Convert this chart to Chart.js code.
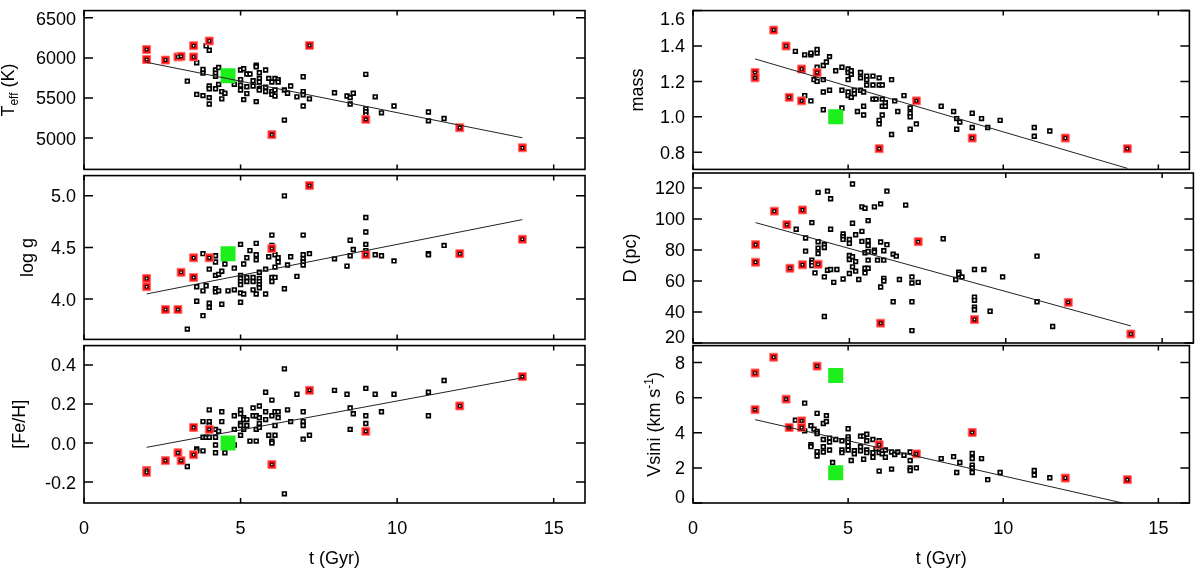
<!DOCTYPE html>
<html>
<head>
<meta charset="utf-8">
<script src="https://cdn.jsdelivr.net/npm/chart.js@4.4.1/dist/chart.umd.min.js"></script>
<style>
    body { margin: 0; background: #fff; width: 1200px; height: 570px; position: relative; overflow: hidden; }
    canvas { position: absolute; }
</style>
</head>
<body>
<canvas id="pTeff"></canvas>
<canvas id="pMass"></canvas>
<canvas id="pLogg"></canvas>
<canvas id="pDist"></canvas>
<canvas id="pFeh"></canvas>
<canvas id="pVsini"></canvas>
<script>
// ======================== TICKS ========================
const ageTicks = [0, 5, 10, 15];
const teffTicks = [5000, 5500, 6000, 6500];
const loggTicks = [4.0, 4.5, 5.0];
const fehTicks = [-0.2, 0.0, 0.2, 0.4];
const massTicks = [0.8, 1.0, 1.2, 1.4, 1.6];
const distTicks = [20, 40, 60, 80, 100, 120];
const vsiniTicks = [0, 2, 4, 6, 8];

// ======================== DADOS [idade (Gyr), valor] ========================
const teffBlack = [[3.9,6150],[4.0,6095],[3.6,5940],[3.3,5710],[3.6,5545],[3.8,5530],[3.8,5855],[3.8,5810],[4.0,5505],[4.0,5425],[4.0,5650],[4.0,5615],[4.2,5850],[4.2,5810],[4.2,5770],[4.2,5615],[4.3,5880],[4.3,5670],[4.4,5580],[4.4,5490],[4.5,5560],[4.8,5670],[5.0,5850],[5.0,5730],[5.0,5660],[5.0,5600],[5.1,5865],[5.1,5480],[5.2,5800],[5.3,5800],[5.2,5640],[5.2,5555],[5.4,5715],[5.4,5650],[5.5,5910],[5.5,5890],[5.5,5455],[5.6,5815],[5.6,5745],[5.6,5700],[5.6,5615],[5.6,5600],[5.8,5850],[5.8,5635],[5.8,5580],[5.9,5745],[6.0,5700],[6.0,5580],[6.0,5545],[6.1,5745],[6.1,5600],[6.1,5525],[6.2,5730],[6.2,5700],[6.4,5600],[6.5,5560],[6.4,5225],[6.6,5650],[6.8,5515],[7.0,5765],[7.0,5580],[7.0,5540],[7.0,5400],[7.2,5490],[8.0,5565],[8.4,5525],[8.5,5505],[8.5,5425],[8.6,5560],[9.0,5795],[9.0,5365],[9.0,5330],[9.0,5290],[9.3,5515],[9.5,5315],[9.9,5400],[11.0,5325],[11.0,5215],[11.5,5245]];
const teffRed = [[2.0,6105],[2.0,5980],[2.6,5973],[3.0,6012],[3.1,6020],[3.5,6152],[3.5,6012],[4.0,6211],[6.0,5043],[7.2,6156],[9.0,5234],[12.0,5129],[14.0,4879]];
const teffSun = [[4.6,5777]];
const teffFit = [[2.0,5945],[14.0,5004]];

const loggBlack = [[3.3,3.71],[3.6,3.98],[3.8,3.84],[3.6,4.12],[3.8,4.08],[3.9,4.13],[3.8,4.44],[4.0,4.29],[4.0,3.96],[4.0,3.92],[4.2,4.42],[4.2,4.36],[4.2,4.23],[4.3,4.24],[4.2,4.10],[4.2,4.07],[4.3,4.08],[4.4,4.27],[4.4,3.95],[4.5,4.34],[4.6,4.08],[4.8,4.30],[4.8,4.09],[5.0,4.53],[5.0,4.23],[5.0,4.20],[5.0,4.17],[5.0,4.14],[5.0,4.06],[5.0,3.97],[5.1,4.34],[5.1,4.05],[5.2,4.21],[5.2,4.17],[5.2,4.40],[5.3,4.47],[5.4,4.21],[5.4,4.17],[5.4,4.09],[5.5,4.54],[5.5,4.43],[5.5,4.38],[5.5,4.05],[5.6,4.26],[5.6,4.20],[5.6,4.17],[5.6,4.14],[5.6,4.11],[5.8,4.29],[5.8,4.05],[5.9,4.41],[6.0,4.62],[6.0,4.52],[6.0,4.21],[6.0,4.17],[6.1,4.43],[6.1,4.31],[6.1,4.21],[6.2,4.40],[6.2,4.36],[6.4,5.00],[6.4,4.10],[6.5,4.33],[6.6,4.41],[6.8,4.22],[7.0,4.62],[7.0,4.43],[7.0,4.39],[7.0,4.36],[7.0,4.33],[7.2,4.44],[8.0,4.39],[8.4,4.32],[8.5,4.57],[8.5,4.42],[8.6,4.48],[9.0,4.79],[9.0,4.65],[9.0,4.53],[9.0,4.47],[9.3,4.43],[9.5,4.42],[9.9,4.37],[11.0,4.44],[11.0,4.43],[11.5,4.52]];
const loggRed = [[2.0,4.20],[2.0,4.12],[2.6,3.90],[3.0,3.90],[3.1,4.26],[3.5,4.40],[3.5,4.21],[4.0,4.40],[6.0,4.49],[7.2,5.10],[9.0,4.43],[12.0,4.44],[14.0,4.58]];
const loggSun = [[4.6,4.44]];
const loggFit = [[2.0,4.05],[14.0,4.77]];

const fehBlack = [[3.3,-0.12],[3.6,-0.03],[3.6,-0.04],[3.8,0.11],[3.8,0.03],[3.8,-0.04],[3.9,0.03],[4.0,0.17],[4.0,0.11],[4.0,0.09],[4.0,0.03],[4.2,0.03],[4.2,0.07],[4.2,-0.01],[4.2,-0.05],[4.3,0.06],[4.4,0.16],[4.4,0.11],[4.5,-0.05],[4.8,0.14],[4.8,0.07],[4.8,-0.01],[5.0,0.17],[5.0,0.15],[5.0,0.10],[5.0,0.09],[5.0,0.04],[5.1,0.13],[5.1,0.12],[5.1,0.07],[5.2,0.12],[5.2,0.09],[5.3,0.01],[5.4,0.18],[5.4,0.14],[5.5,0.14],[5.5,0.07],[5.5,0.01],[5.6,0.19],[5.6,0.13],[5.6,0.10],[5.6,0.08],[5.8,0.26],[5.8,0.16],[5.8,0.12],[5.9,0.04],[6.0,0.22],[6.0,0.14],[6.0,0.01],[6.0,0.00],[6.1,0.16],[6.1,0.09],[6.1,0.04],[6.2,0.16],[6.2,0.13],[6.4,0.38],[6.4,-0.26],[6.5,0.17],[6.6,0.11],[6.8,0.25],[7.0,0.16],[7.0,0.11],[7.0,0.09],[7.0,0.02],[7.2,0.04],[8.0,0.27],[8.4,0.25],[8.5,0.18],[8.5,0.07],[8.6,0.15],[9.0,0.28],[9.0,0.14],[9.0,0.10],[9.3,0.25],[9.5,0.16],[9.9,0.25],[11.0,0.26],[11.0,0.14],[11.5,0.32]];
const fehRed = [[2.0,-0.14],[2.0,-0.15],[2.6,-0.09],[3.0,-0.05],[3.1,-0.09],[3.5,0.08],[3.5,-0.06],[4.0,0.07],[6.0,-0.11],[7.2,0.27],[9.0,0.06],[12.0,0.19],[14.0,0.34]];
const fehSun = [[4.6,0.0]];
const fehFit = [[2.0,-0.022],[14.0,0.334]];

const massBlack = [[3.3,1.37],[3.6,1.35],[3.8,1.35],[3.8,1.36],[4.0,1.36],[4.0,1.38],[3.6,1.12],[3.8,1.09],[4.0,1.28],[3.9,1.21],[4.0,1.20],[4.2,1.04],[4.2,1.21],[4.2,1.14],[4.2,1.29],[4.3,1.31],[4.4,1.34],[4.4,1.15],[4.6,1.26],[4.8,1.28],[4.8,1.15],[4.8,1.05],[5.0,1.27],[5.0,1.25],[5.0,1.21],[5.0,1.14],[5.1,1.24],[5.1,1.26],[5.0,1.12],[5.1,1.11],[5.2,1.15],[5.2,1.13],[5.3,1.03],[5.4,1.25],[5.4,1.22],[5.4,1.15],[5.5,1.14],[5.5,1.06],[5.5,1.01],[5.6,1.23],[5.6,1.21],[5.6,1.18],[5.8,1.23],[5.8,1.18],[5.8,1.10],[5.9,1.10],[6.0,1.22],[6.0,1.18],[6.0,0.98],[6.0,0.96],[6.1,1.18],[6.1,1.10],[6.1,1.06],[6.2,1.08],[6.2,1.06],[6.1,1.01],[6.5,1.09],[6.4,1.21],[6.4,0.90],[6.6,1.03],[6.8,1.12],[7.0,1.05],[7.0,1.02],[7.0,1.00],[7.0,0.93],[7.2,0.96],[8.0,1.06],[8.4,1.03],[8.5,0.99],[8.6,0.97],[8.5,0.93],[9.0,1.02],[9.0,0.94],[9.3,0.99],[9.5,0.94],[9.9,0.98],[11.0,0.94],[11.0,0.89],[11.5,0.92]];
const massRed = [[2.0,1.25],[2.0,1.22],[2.6,1.49],[3.0,1.40],[3.1,1.11],[3.5,1.27],[3.5,1.09],[4.0,1.25],[6.0,0.82],[7.2,1.09],[9.0,0.88],[12.0,0.88],[14.0,0.82]];
const massSun = [[4.6,1.0]];
const massFit = [[2.0,1.327],[14.0,0.709]];

const distBlack = [[3.3,93.3],[3.6,87.7],[3.6,79.2],[3.8,97.6],[3.8,73.4],[3.8,71.7],[3.8,69.9],[3.9,65.2],[4.0,117.1],[4.0,85.3],[4.0,81.2],[4.0,77.7],[4.2,83.4],[4.2,81.6],[4.2,62.6],[4.2,37.1],[4.3,117.9],[4.3,66.9],[4.4,67.4],[4.4,113.0],[4.4,93.3],[4.5,59.1],[4.6,67.4],[4.8,90.3],[4.8,88.5],[4.8,86.8],[4.8,61.3],[5.0,86.8],[5.0,84.2],[5.0,76.4],[5.0,73.8],[5.0,64.8],[5.1,122.5],[5.1,97.2],[5.1,75.6],[5.1,69.1],[5.2,89.8],[5.2,72.5],[5.2,66.3],[5.3,60.9],[5.4,107.8],[5.5,106.9],[5.4,92.0],[5.4,85.5],[5.5,78.2],[5.5,68.2],[5.5,65.2],[5.6,98.9],[5.6,85.9],[5.6,82.9],[5.6,79.0],[5.6,73.4],[5.6,68.2],[5.8,107.8],[5.8,79.8],[5.8,78.7],[5.9,73.4],[6.0,109.7],[6.0,85.1],[6.0,56.1],[6.1,79.5],[6.1,73.4],[6.1,61.7],[6.1,60.0],[6.2,117.9],[6.2,83.4],[6.4,77.3],[6.5,76.0],[6.4,46.6],[6.6,60.9],[6.8,108.9],[7.0,62.6],[7.0,58.7],[7.0,46.6],[7.0,28.0],[7.2,59.1],[8.0,87.2],[8.4,60.9],[8.5,65.6],[8.5,64.3],[8.6,62.6],[9.0,67.4],[9.0,49.6],[9.0,47.5],[9.0,43.1],[9.0,41.4],[9.3,67.4],[9.5,40.5],[9.9,62.6],[11.0,76.0],[11.0,46.6],[11.5,30.6]];
const distRed = [[2.0,83.4],[2.0,72.1],[2.6,105.0],[3.0,96.3],[3.1,68.2],[3.5,105.8],[3.5,70.4],[4.0,70.8],[6.0,32.8],[7.2,85.3],[9.0,35.1],[12.0,46.2],[14.0,25.8]];
const distSun = [];
const distFit = [[2.0,97.6],[14.0,31.0]];

const vsiniBlack = [[3.3,4.72],[3.6,5.69],[3.6,4.11],[3.8,4.41],[3.8,3.32],[3.8,3.21],[3.9,4.21],[4.0,5.11],[4.0,4.08],[4.0,3.96],[4.0,2.93],[4.0,2.68],[4.2,4.53],[4.3,4.98],[4.3,4.64],[4.2,3.62],[4.2,3.21],[4.2,2.91],[4.4,3.70],[4.4,3.47],[4.4,3.02],[4.5,2.31],[4.6,3.62],[4.8,3.55],[4.8,3.02],[4.8,2.87],[5.0,4.23],[5.0,3.77],[5.0,3.62],[5.0,3.47],[5.0,3.25],[5.0,3.02],[5.1,2.42],[5.2,2.98],[5.2,2.80],[5.4,3.81],[5.4,3.21],[5.4,2.98],[5.5,3.81],[5.5,2.49],[5.6,3.92],[5.6,3.55],[5.6,3.02],[5.6,2.87],[5.8,3.62],[5.8,2.87],[5.8,2.61],[5.9,3.10],[6.0,3.55],[6.0,2.87],[6.0,1.82],[6.1,2.98],[6.1,2.80],[6.2,3.02],[6.2,2.61],[6.4,2.91],[6.5,2.76],[6.4,1.93],[6.6,2.91],[6.8,2.72],[7.0,2.91],[7.0,2.42],[7.0,2.00],[7.0,1.85],[7.2,2.00],[8.0,2.53],[8.4,2.64],[8.5,1.74],[8.6,2.31],[9.0,2.83],[9.0,2.53],[9.0,2.16],[9.0,2.00],[9.0,1.74],[9.3,2.53],[9.5,1.33],[9.9,1.74],[11.0,1.85],[11.0,1.59],[11.5,1.44]];
const vsiniRed = [[2.0,7.41],[2.0,5.32],[2.6,8.31],[3.0,5.92],[3.1,4.30],[3.5,4.68],[3.5,4.30],[4.0,7.80],[6.0,3.32],[7.2,2.80],[9.0,4.02],[12.0,1.42],[14.0,1.33]];
const vsiniSun = [[4.6,7.26],[4.6,1.72]];
const vsiniFit = [[2.0,4.75],[13.85,0.0]];

// ======================== LAYOUT ========================
const FONT = '"Liberation Sans", Arial, Helvetica, sans-serif';
const cols = [
    { left: 0, padRight: 15, yw: 84 },
    { left: 600, padRight: 4, yw: 93 },
];
const rows = [
    { top: 0, h: 180, padTop: 4, padBottom: 7, xh: 0 },
    { top: 165, h: 185, padTop: 8, padBottom: 7, xh: 0 },
    { top: 335, h: 235, padTop: 8, padBottom: 0, xh: 67 },
];

const panels = [
    { id: 'pTeff', col: 0, row: 0, min: 4610, max: 6590, ticks: teffTicks, dec: 0, titleX: 14,
      title: [['T'], ['eff', 'sub'], [' (K)']], black: teffBlack, red: teffRed, sun: teffSun, fit: teffFit },
    { id: 'pLogg', col: 0, row: 1, min: 3.61, max: 5.196, ticks: loggTicks, dec: 1, titleX: 32.5,
      title: [['log g']], black: loggBlack, red: loggRed, sun: loggSun, fit: loggFit },
    { id: 'pFeh', col: 0, row: 2, min: -0.307, max: 0.499, ticks: fehTicks, dec: 1, titleX: 24.8,
      title: [['[Fe/H]']], black: fehBlack, red: fehRed, sun: fehSun, fit: fehFit },
    { id: 'pMass', col: 1, row: 0, min: 0.703, max: 1.6, ticks: massTicks, dec: 1, titleX: 42.5,
      title: [['mass']], black: massBlack, red: massRed, sun: massSun, fit: massFit },
    { id: 'pDist', col: 1, row: 1, min: 20, max: 129.6, ticks: distTicks, dec: 0, titleX: 36.3,
      title: [['D (pc)']], black: distBlack, red: distRed, sun: distSun, fit: distFit },
    { id: 'pVsini', col: 1, row: 2, min: 0, max: 8.97, ticks: vsiniTicks, dec: 0, titleX: 60,
      title: [['Vsini (km s'], ['-1', 'sup'], [')']], black: vsiniBlack, red: vsiniRed, sun: vsiniSun, fit: vsiniFit },
];

// moldura estilo IDL: caixa, ticks para dentro, rótulos e título do eixo y
const framePlugin = {
    id: 'frame',
    afterDraw(chart, args, opts) {
        const { ctx, chartArea: a, scales: { x, y } } = chart;
        ctx.save();
        ctx.strokeStyle = '#000';
        ctx.lineWidth = 1.5;
        ctx.beginPath();
        y.ticks.forEach((t) => {
            const py = y.getPixelForValue(t.value);
            ctx.moveTo(a.left, py); ctx.lineTo(a.left + 9, py);
            ctx.moveTo(a.right, py); ctx.lineTo(a.right - 9, py);
        });
        x.ticks.forEach((t) => {
            const px = x.getPixelForValue(t.value);
            ctx.moveTo(px, a.top); ctx.lineTo(px, a.top + 5);
            ctx.moveTo(px, a.bottom); ctx.lineTo(px, a.bottom - 5);
        });
        ctx.stroke();
        ctx.lineWidth = 1.6;
        ctx.strokeRect(a.left, a.top, a.right - a.left, a.bottom - a.top);

        ctx.fillStyle = '#000';
        ctx.font = '18px ' + FONT;
        ctx.textAlign = 'right';
        ctx.textBaseline = 'middle';
        y.ticks.forEach((t) => {
            let py = y.getPixelForValue(t.value) + 1.5;
            py = Math.min(Math.max(py, a.top + 9), a.bottom - 5);
            ctx.fillText(t.value.toFixed(opts.dec), a.left - 8, py);
        });
        if (opts.xLabels) {
            ctx.textAlign = 'center';
            x.ticks.forEach((t) => {
                ctx.fillText(String(t.value), x.getPixelForValue(t.value), a.bottom + 26);
            });
        }

        // título do eixo y (rotacionado, com sub/sobrescrito)
        const segs = opts.title.map(([txt, kind]) => {
            const size = kind ? 12 : 18;
            ctx.font = size + 'px ' + FONT;
            return { txt, size, dy: kind === 'sub' ? 4 : kind === 'sup' ? -7 : 0, w: ctx.measureText(txt).width };
        });
        const total = segs.reduce((acc, s) => acc + s.w, 0);
        ctx.translate(opts.titleX, (a.top + a.bottom) / 2);
        ctx.rotate(-Math.PI / 2);
        ctx.textAlign = 'left';
        ctx.textBaseline = 'alphabetic';
        let cx = -total / 2;
        segs.forEach((s) => {
            ctx.font = s.size + 'px ' + FONT;
            ctx.fillText(s.txt, cx, s.dy);
            cx += s.w;
        });
        ctx.restore();
    },
};

const toXY = (arr) => arr.map(([t, v]) => ({ x: t, y: v }));

panels.forEach((p) => {
    const col = cols[p.col];
    const row = rows[p.row];
    const el = document.getElementById(p.id);
    el.width = 600;
    el.height = row.h;
    el.style.left = col.left + 'px';
    el.style.top = row.top + 'px';

    new Chart(el.getContext('2d'), {
        type: 'scatter',
        data: {
            datasets: [
                { data: toXY(p.fit), showLine: true, borderColor: '#222', borderWidth: 1, pointRadius: 0 },
                { data: toXY(p.sun), pointStyle: 'rect', pointRadius: 10.6, backgroundColor: '#1cef1c', borderWidth: 0 },
                { data: toXY(p.red), pointStyle: 'rect', pointRadius: 1.8, backgroundColor: '#fff', borderColor: '#000', borderWidth: 1.1 },
                { data: toXY(p.red), pointStyle: 'rect', pointRadius: 5.6, backgroundColor: '#ff1010', borderColor: '#ff7272', borderWidth: 1 },
                { data: toXY(p.black), pointStyle: 'rect', pointRadius: 2.6, backgroundColor: '#fff', borderColor: '#000', borderWidth: 1.7 },
            ],
        },
        options: {
            responsive: false,
            animation: false,
            events: [],
            layout: { padding: { top: row.padTop, bottom: row.padBottom, left: 0, right: col.padRight } },
            plugins: {
                legend: { display: false },
                tooltip: { enabled: false },
                frame: { dec: p.dec, xLabels: row.xh > 0, title: p.title, titleX: p.titleX },
            },
            scales: {
                x: {
                    type: 'linear', min: 0, max: 16,
                    grid: { display: false }, border: { display: false }, ticks: { display: false },
                    afterBuildTicks: (s) => { s.ticks = ageTicks.map((v) => ({ value: v })); },
                    afterFit: (s) => { s.height = row.xh; },
                    title: {
                        display: row.xh > 0, text: 't (Gyr)', color: '#000',
                        font: { family: FONT, size: 18 }, padding: { top: 0, bottom: 0 },
                    },
                },
                y: {
                    type: 'linear', min: p.min, max: p.max,
                    grid: { display: false }, border: { display: false }, ticks: { display: false },
                    afterBuildTicks: (s) => { s.ticks = p.ticks.map((v) => ({ value: v })); },
                    afterFit: (s) => { s.width = col.yw; },
                },
            },
        },
        plugins: [framePlugin],
    });
});
</script>
</body>
</html>
